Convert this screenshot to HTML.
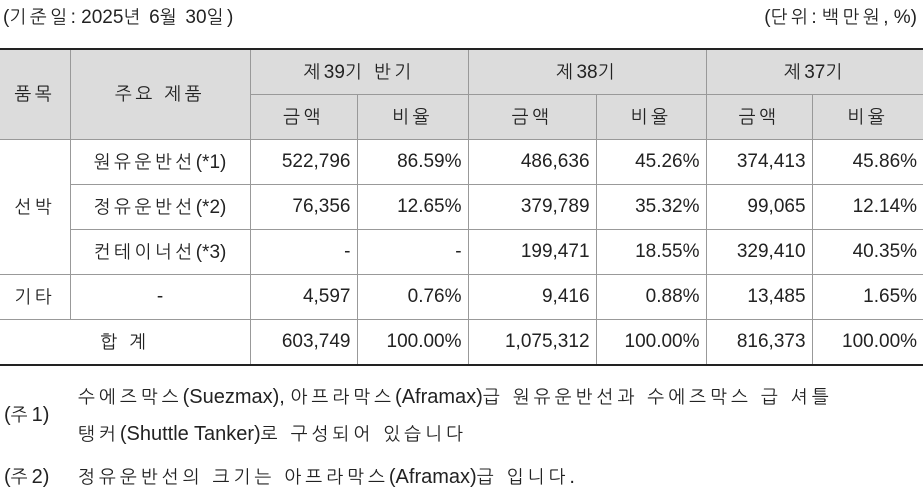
<!DOCTYPE html>
<html><head><meta charset="utf-8"><style>
body{margin:0;width:923px;height:497px;background:#fff;font-family:"Liberation Sans","NanumGothic","Noto Sans CJK KR",sans-serif;font-size:19px;color:#222;position:relative;overflow:hidden}
.k{font-size:18px;letter-spacing:3.5px}
.n{font-size:20px}
.n .k{letter-spacing:4px}
.t{position:absolute;white-space:nowrap}
table{position:absolute;left:0;top:48px;border-collapse:collapse;table-layout:fixed;width:923px}
td{border:1px solid #999;padding:0 6px;height:44px;text-align:right;white-space:nowrap}
td.c{text-align:center}
tr.h td{background:#dcdcdc;text-align:center}
tr:first-child td{border-top:2px solid #222}
tr:last-child td{border-bottom:2px solid #222}
td:first-child{border-left:none}td:last-child{border-right:none}
</style></head><body>
<div class="t" style="left:3px;top:6px">(<span class="k">기준일</span>: 2025<span class="k">년</span> 6<span class="k">월</span> 30<span class="k">일</span>)</div>
<div class="t" style="right:6px;top:6px">(<span class="k">단위</span>: <span class="k">백만원</span>, %)</div>
<table>
<colgroup><col style="width:70px"><col style="width:180px"><col style="width:107px"><col style="width:111px"><col style="width:128px"><col style="width:110px"><col style="width:106px"><col style="width:111px"></colgroup>
<tr class="h"><td rowspan="2"><span class="k">품목</span></td><td rowspan="2"><span class="k">주요 제품</span></td><td colspan="2"><span class="k">제</span>39<span class="k">기 반기</span></td><td colspan="2"><span class="k">제</span>38<span class="k">기</span></td><td colspan="2"><span class="k">제</span>37<span class="k">기</span></td></tr>
<tr class="h"><td><span class="k">금액</span></td><td><span class="k">비율</span></td><td><span class="k">금액</span></td><td><span class="k">비율</span></td><td><span class="k">금액</span></td><td><span class="k">비율</span></td></tr>
<tr><td class="c" rowspan="3"><span class="k">선박</span></td><td class="c"><span class="k">원유운반선</span>(*1)</td><td>522,796</td><td>86.59%</td><td>486,636</td><td>45.26%</td><td>374,413</td><td>45.86%</td></tr>
<tr><td class="c"><span class="k">정유운반선</span>(*2)</td><td>76,356</td><td>12.65%</td><td>379,789</td><td>35.32%</td><td>99,065</td><td>12.14%</td></tr>
<tr><td class="c"><span class="k">컨테이너선</span>(*3)</td><td>-</td><td>-</td><td>199,471</td><td>18.55%</td><td>329,410</td><td>40.35%</td></tr>
<tr><td class="c"><span class="k">기타</span></td><td class="c">-</td><td>4,597</td><td>0.76%</td><td>9,416</td><td>0.88%</td><td>13,485</td><td>1.65%</td></tr>
<tr><td class="c" colspan="2"><span class="k">합 계</span></td><td>603,749</td><td>100.00%</td><td>1,075,312</td><td>100.00%</td><td>816,373</td><td>100.00%</td></tr>
</table>
<div class="t n" style="left:4px;top:404px">(<span class="k">주</span>1)</div>
<div class="t n" style="left:78px;top:386px"><span class="k">수에즈막스</span>(Suezmax), <span class="k">아프라막스</span>(Aframax)<span class="k">급 원유운반선과 수에즈막스 급 셔틀</span></div>
<div class="t n" style="left:78px;top:423px"><span class="k">탱커</span>(Shuttle Tanker)<span class="k">로 구성되어 있습니다</span></div>
<div class="t n" style="left:4px;top:466px">(<span class="k">주</span>2)</div>
<div class="t n" style="left:78px;top:466px"><span class="k">정유운반선의 크기는 아프라막스</span>(Aframax)<span class="k">급 입니다</span>.</div>
</body></html>
